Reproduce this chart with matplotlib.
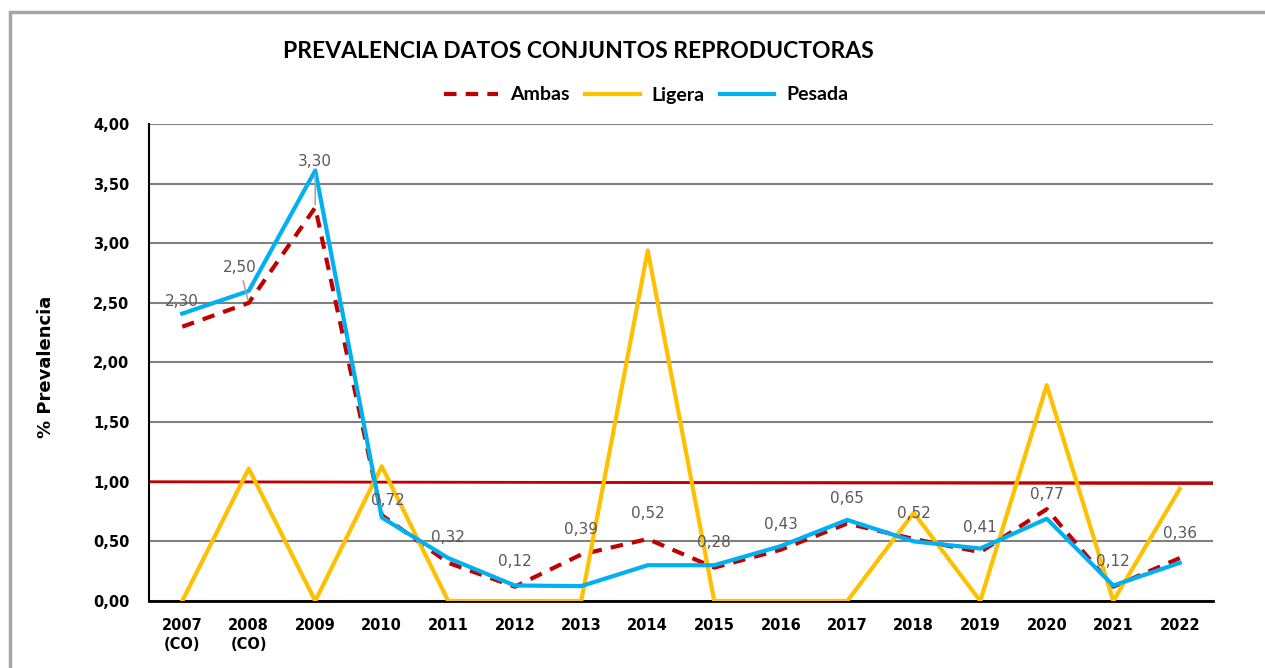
import numpy as np
import matplotlib.pyplot as plt
from matplotlib.patches import Rectangle

anios = ['2007\n(CO)', '2008\n(CO)', '2009', '2010', '2011', '2012', '2013', '2014',
         '2015', '2016', '2017', '2018', '2019', '2020', '2021', '2022']
ambas = [2.30, 2.50, 3.30, 0.72, 0.32, 0.12, 0.39, 0.52, 0.28, 0.43, 0.65, 0.52, 0.41, 0.77, 0.12, 0.36]
ligera = [0.00, 1.11, 0.00, 1.13, 0.00, 0.00, 0.00, 2.94, 0.00, 0.00, 0.00, 0.74, 0.00, 1.81, 0.00, 0.94]
pesada = [2.41, 2.60, 3.61, 0.70, 0.36, 0.13, 0.125, 0.30, 0.30, 0.46, 0.68, 0.50, 0.44, 0.69, 0.13, 0.32]
umbral = [1.00, 0.985]

x = np.arange(len(anios))

plt.rcParams['font.family'] = ['DejaVu Sans']
titlefont = ['Liberation Sans Narrow', 'Lato', 'DejaVu Sans']

fig = plt.figure(figsize=(12.65, 6.68), dpi=100)
fig.patches.append(Rectangle((10/1265, -0.05), 1.1, 1 - 12/668 + 0.05, transform=fig.transFigure,
                             fill=False, edgecolor='#a6a6a6', linewidth=2.5))
ax = fig.add_axes([149/1265, 1 - 601/668, (1213 - 149)/1265, (601 - 124)/668])

ax.set_ylim(0, 4)
ax.set_xlim(-0.5, 15.5)
ax.set_yticks(np.arange(0, 4.01, 0.5))
ax.set_yticklabels([('%.2f' % v).replace('.', ',') for v in np.arange(0, 4.01, 0.5)],
                   fontweight='bold', fontsize=10.5)
ax.set_xticks(x)
ax.set_xticklabels(anios, fontweight='bold', fontsize=10.5, linespacing=1.4)
ax.tick_params(length=0, pad=12)
ax.tick_params(axis='y', pad=14)
ax.grid(axis='y', color='#808080', linewidth=1.5)
ax.set_axisbelow(True)
for s in ['top', 'right']:
    ax.spines[s].set_visible(False)
ax.spines['left'].set_linewidth(1.5)
ax.spines['bottom'].set_linewidth(2)

ax.plot([-0.5, 15.5], umbral, color='#c00000', linewidth=2, zorder=2)
l1, = ax.plot(x, ambas, color='#c00000', linewidth=3, dashes=(3, 2.2), zorder=3)
l2, = ax.plot(x, ligera, color='#ffc000', linewidth=3, zorder=4)
l3, = ax.plot(x, pesada, color='#00b0f0', linewidth=3, zorder=5)

desplaz = {1: (-9, 35), 2: (0, 46), 3: (6, 15), 13: (0, 15)}
for i, v in enumerate(ambas):
    dx, dy = desplaz.get(i, (0, 25))
    props = None
    if i in (1, 2):
        props = dict(arrowstyle='-', color='#a6a6a6', linewidth=1.2, shrinkA=2, shrinkB=2)
    ax.annotate(('%.2f' % v).replace('.', ','), (x[i], v), xytext=(dx, dy),
                textcoords='offset pixels', ha='center', va='center',
                fontsize=11, color='#595959', arrowprops=props, zorder=6)

ax.set_ylabel('% Prevalencia', fontweight='bold', fontsize=13)
ax.yaxis.set_label_coords(-94/1064, 0.49)

fig.text(578/1265, 1 - 52/668, 'PREVALENCIA DATOS CONJUNTOS REPRODUCTORAS', family=titlefont,
         fontweight='bold', fontsize=16.5, ha='center', va='center')
fig.legend([l1, l2, l3], ['Ambas', 'Ligera', 'Pesada'], loc='center',
           bbox_to_anchor=(646/1265, 1 - 95/668), ncol=3, frameon=False,
           prop=dict(family=titlefont, weight='bold', size=14),
           handlelength=2.8, handletextpad=0.6, columnspacing=0.8)

fig.savefig('out.png', dpi=100)
